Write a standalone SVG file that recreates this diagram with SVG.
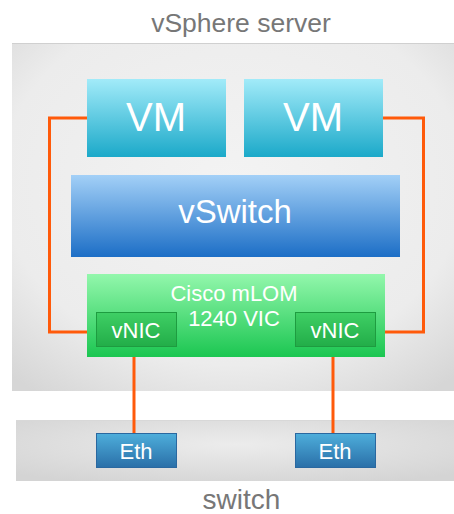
<svg xmlns="http://www.w3.org/2000/svg" width="454" height="514" viewBox="0 0 454 514">
<defs>
<radialGradient id="gBg" cx="0.5" cy="0.4" r="0.75">
<stop offset="0" stop-color="#f3f3f3"/><stop offset="0.7" stop-color="#ececec"/><stop offset="1" stop-color="#d6d6d6"/>
</radialGradient>
<radialGradient id="gSw" cx="0.5" cy="0.4" r="0.7">
<stop offset="0" stop-color="#ececec"/><stop offset="1" stop-color="#d4d4d4"/>
</radialGradient>
<linearGradient id="gVM" x1="0" y1="0" x2="0" y2="1">
<stop offset="0" stop-color="#a2ebf9"/><stop offset="1" stop-color="#1ba9c9"/>
</linearGradient>
<linearGradient id="gVS" x1="0" y1="0" x2="0" y2="1">
<stop offset="0" stop-color="#a3d0f7"/><stop offset="1" stop-color="#1c6ec6"/>
</linearGradient>
<linearGradient id="gCi" x1="0" y1="0" x2="0" y2="1">
<stop offset="0" stop-color="#93f7ac"/><stop offset="1" stop-color="#1bc651"/>
</linearGradient>
<linearGradient id="gNic" x1="0" y1="0" x2="0" y2="1">
<stop offset="0" stop-color="#3fcf65"/><stop offset="1" stop-color="#22ad48"/>
</linearGradient>
<linearGradient id="gEth" x1="0" y1="0" x2="0" y2="1">
<stop offset="0" stop-color="#4eaedb"/><stop offset="1" stop-color="#2a6fa8"/>
</linearGradient>
</defs>
<style>
.lbl{font-family:"Liberation Sans",Arial,sans-serif;fill:#777777;text-anchor:middle}
.w{font-family:"Liberation Sans",Arial,sans-serif;fill:#ffffff;text-anchor:middle}
.wire{fill:none;stroke:#ff5a0a;stroke-width:3}
</style>
<rect width="454" height="514" fill="#ffffff"/>
<g id="server">
<rect x="12" y="43" width="442" height="348" fill="url(#gBg)"/>
<line x1="12" y1="43.5" x2="454" y2="43.5" stroke="#d0d0d0" stroke-width="1"/>
<text class="lbl" x="241" y="32" font-size="26.5">vSphere server</text>
</g>
<g id="switch">
<rect x="16" y="420" width="438" height="61" fill="url(#gSw)"/>
<line x1="16" y1="420.5" x2="454" y2="420.5" stroke="#d8d8d8" stroke-width="1"/>
<text class="lbl" x="241.5" y="509" font-size="28">switch</text>
</g>
<g id="connectors">
<polyline class="wire" points="87,118 49.5,118 49.5,332 96,332"/>
<polyline class="wire" points="383,118 423.5,118 423.5,332 376,332"/>
<line class="wire" x1="134" y1="347" x2="134" y2="433"/>
<line class="wire" x1="333" y1="347" x2="333" y2="433"/>
</g>
<g id="vm1">
<rect x="87" y="79" width="139" height="78" fill="url(#gVM)"/>
<text class="w" x="156" y="131" font-size="40">VM</text>
</g>
<g id="vm2">
<rect x="244" y="79" width="139" height="78" fill="url(#gVM)"/>
<text class="w" x="313" y="131" font-size="40">VM</text>
</g>
<g id="vswitch">
<rect x="71" y="175" width="329" height="82" fill="url(#gVS)"/>
<text class="w" x="235" y="223" font-size="33">vSwitch</text>
</g>
<g id="cisco">
<rect x="87" y="274" width="298" height="83" fill="url(#gCi)"/>
<text class="w" x="234" y="301" font-size="22">Cisco mLOM</text>
<text class="w" x="234" y="326" font-size="22">1240 VIC</text>
</g>
<g id="vnic1">
<rect x="96.5" y="312.5" width="80" height="34" fill="url(#gNic)" stroke="#1e9c40" stroke-width="1"/>
<text class="w" x="136" y="337.5" font-size="22">vNIC</text>
</g>
<g id="vnic2">
<rect x="295.5" y="312.5" width="80" height="34" fill="url(#gNic)" stroke="#1e9c40" stroke-width="1"/>
<text class="w" x="335" y="337.5" font-size="22">vNIC</text>
</g>
<g id="eth1">
<rect x="96.5" y="433.5" width="80" height="34" fill="url(#gEth)" stroke="#2a68a0" stroke-width="1"/>
<text class="w" x="136" y="459" font-size="22">Eth</text>
</g>
<g id="eth2">
<rect x="295.5" y="433.5" width="80" height="34" fill="url(#gEth)" stroke="#2a68a0" stroke-width="1"/>
<text class="w" x="335" y="459" font-size="22">Eth</text>
</g>
</svg>
